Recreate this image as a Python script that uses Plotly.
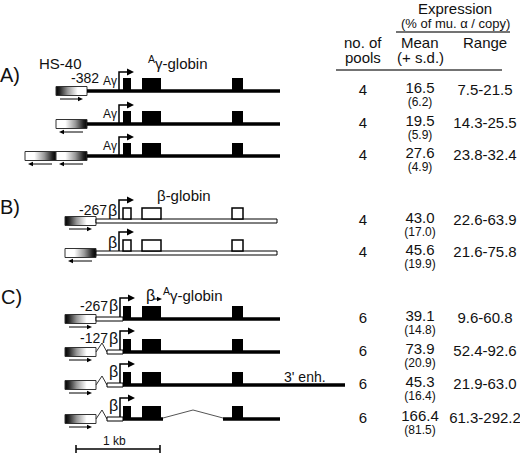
import plotly.graph_objects as go

# values of the expression table (rows A1..A3, B1..B2, C1..C4)
pools = [4, 4, 4, 4, 4, 6, 6, 6, 6]
mean_expr = [16.5, 19.5, 27.6, 43.0, 45.6, 39.1, 73.9, 45.3, 166.4]
sd_expr = [6.2, 5.9, 4.9, 17.0, 19.9, 14.8, 20.9, 16.4, 81.5]
range_low = [7.5, 14.3, 23.8, 22.6, 21.6, 9.6, 52.4, 21.9, 61.3]
range_high = [21.5, 25.5, 32.4, 63.9, 75.8, 60.8, 92.6, 63.0, 292.2]

# drawing layout (pixel units, y grows downwards)
row_y = [91, 124, 156, 221, 253, 319, 352, 385, 419]
exon_x = [(123, 131), (142, 161), (232, 243)]
FONT = "Liberation Sans, Arial, sans-serif"

fig = go.Figure()
shapes = []
notes = []


def text(x, y, s, size=15, **kw):
    notes.append(dict(x=x, y=y, text=s, showarrow=False, font=dict(size=size),
                      xanchor=kw.pop('xanchor', 'center'), yanchor='middle', **kw))


def hline(x0, x1, y, width=3.5, color='black'):
    shapes.append(dict(type='line', x0=x0, x1=x1, y0=y, y1=y,
                       line=dict(color=color, width=width)))


def small_arrow(x_from, x_to, y):
    # thin line with a little filled head
    d = 1 if x_to > x_from else -1
    hline(x_from, x_to - 4 * d, y, width=1)
    shapes.append(dict(type='path',
                       path=f'M {x_to - 5 * d} {y - 2.2} L {x_to} {y} L {x_to - 5 * d} {y + 2.2} Z',
                       fillcolor='black', line=dict(width=0)))


def hs40(x0, y, reverse=False):
    w, h = 31, 9
    if reverse:
        scale = [[0, 'white'], [0.3, 'white'], [0.62, '#999'], [0.88, '#222'], [1, 'black']]
    else:
        scale = [[0, 'black'], [0.12, '#222'], [0.38, '#999'], [0.7, 'white'], [1, 'white']]
    fig.add_trace(go.Scatter(
        x=[x0, x0 + w, x0 + w, x0, x0], y=[y - h / 2, y - h / 2, y + h / 2, y + h / 2, y - h / 2],
        mode='lines', fill='toself',
        fillgradient=dict(type='horizontal', colorscale=scale),
        line=dict(color='#333', width=1), hoverinfo='skip', showlegend=False))
    # orientation arrow under the box
    if reverse:
        small_arrow(x0 + w - 4, x0 + 3, y + 8)
    else:
        small_arrow(x0 + 4, x0 + w - 4, y + 8)


def promoter(x, y):
    shapes.append(dict(type='path', path=f'M {x} {y} L {x} {y - 19} L {x + 9} {y - 19}',
                       line=dict(color='black', width=1.5)))
    shapes.append(dict(type='path', path=f'M {x + 8} {y - 22.5} L {x + 15} {y - 19} L {x + 8} {y - 15.5} Z',
                       fillcolor='black', line=dict(width=0)))


def exons(y, hollow=False):
    for x0, x1 in exon_x:
        if hollow:
            shapes.append(dict(type='rect', x0=x0, x1=x1, y0=y - 13, y1=y - 2,
                               fillcolor='white', line=dict(color='black', width=1.5)))
        else:
            shapes.append(dict(type='rect', x0=x0, x1=x1, y0=y - 13, y1=y + 1,
                               fillcolor='black', line=dict(width=0)))


def bar(x0, x1, y):
    shapes.append(dict(type='rect', x0=x0, x1=x1, y0=y - 2, y1=y + 2,
                       fillcolor='white', line=dict(color='black', width=1)))


def zigzag(y):
    shapes.append(dict(type='path', path=f'M 96 {y} L 102 {y - 9} L 107 {y}',
                       line=dict(color='#333', width=1)))


# ---- panel A: Agamma-globin
text(10, 75, 'A)', size=20)
text(60, 63, 'HS-40')
text(178, 62, '<sup>A</sup>γ-globin')
text(85, 78, '-382', size=14)
for i, y in enumerate(row_y[:3]):
    if i == 0:
        hs40(56, y)
    elif i == 1:
        hs40(56, y, reverse=True)
    else:
        hs40(25, y, reverse=True)
        hs40(56, y, reverse=True)
    hline(87, 280, y)
    promoter(119, y)
    exons(y)
    text(110, y - 10, 'Aγ', size=12)

# ---- panel B: beta-globin
text(10, 207, 'B)', size=20)
text(184, 195, 'β-globin')
text(93, row_y[3] - 11, '-267', size=14)
for i, y in enumerate(row_y[3:5]):
    hs40(65, y, reverse=(i == 1))
    bar(96, 277, y)
    promoter(119, y - 2)
    exons(y, hollow=True)
    text(112, y - 11, 'β', size=16)

# ---- panel C: beta-promoter / Agamma-globin hybrids
text(11, 297, 'C)', size=20)
text(150, 295, 'β', size=16)
small_arrow(153, 162, 299)
text(161, 294, '<sup>A</sup>γ-globin', xanchor='left')
text(94, row_y[5] - 13, '-267', size=14)
text(94, row_y[6] - 14, '-127', size=14)
for i, y in enumerate(row_y[5:]):
    hs40(65, y)
    if i == 0:
        bar(96, 123, y)
    else:
        zigzag(y)
        bar(107, 123, y)
    if i == 2:
        hline(123, 345, y)
    elif i == 3:
        hline(123, 163, y)
        shapes.append(dict(type='path', path=f'M 163 {y - 1} L 193 {y - 9} L 223 {y - 1}',
                           line=dict(color='#555', width=1)))
        hline(223, 280, y)
    else:
        hline(123, 280, y)
    promoter(120, y - 2)
    exons(y)
    text(113, y - 14, 'β', size=16)
text(305, 377, "3' enh.", size=14)

# scale bar
hline(76, 160, 449, width=1.5)
for xb in (76, 160):
    shapes.append(dict(type='line', x0=xb, x1=xb, y0=445, y1=453, line=dict(color='black', width=1.5)))
text(114, 441, '1 kb', size=12)

# ---- table header
text(455, 8, 'Expression')
text(455, 23, '(% of mu. α / copy)', size=13)
hline(396, 510, 32, width=1.5, color='#444')
text(363, 42, 'no. of')
text(363, 57, 'pools')
text(420, 42, 'Mean')
text(420, 57, '(+ s.d.)')
text(485, 42, 'Range')
hline(336, 502, 70, width=1.5, color='#444')

# ---- table values
fig.add_trace(go.Scatter(x=[363] * len(pools), y=row_y, mode='text',
                         text=[str(p) for p in pools], textfont=dict(size=15)))
fig.add_trace(go.Scatter(x=[420] * len(mean_expr), y=[y - 2 for y in row_y], mode='text',
                         text=[f'{m:.1f}' for m in mean_expr], textfont=dict(size=15)))
fig.add_trace(go.Scatter(x=[420] * len(sd_expr), y=[y + 11.5 for y in row_y], mode='text',
                         text=[f'({s:.1f})' for s in sd_expr], textfont=dict(size=12)))
fig.add_trace(go.Scatter(x=[485] * len(range_low), y=row_y, mode='text',
                         text=[f'{lo:.1f}-{hi:.1f}' for lo, hi in zip(range_low, range_high)],
                         textfont=dict(size=15)))

fig.update_traces(hoverinfo='skip', showlegend=False)
fig.update_layout(
    width=520, height=453,
    margin=dict(l=0, r=0, t=0, b=0),
    paper_bgcolor='white', plot_bgcolor='white',
    font=dict(family=FONT, color='#111'),
    shapes=shapes, annotations=notes,
    showlegend=False,
)
fig.update_xaxes(range=[0, 520], visible=False, fixedrange=True)
fig.update_yaxes(range=[453, 0], visible=False, fixedrange=True)

# drop the page's default body margin so the figure fills the window
fig.write_html("out.html", config={'displayModeBar': False},
               post_script="document.body.style.margin='0';")
